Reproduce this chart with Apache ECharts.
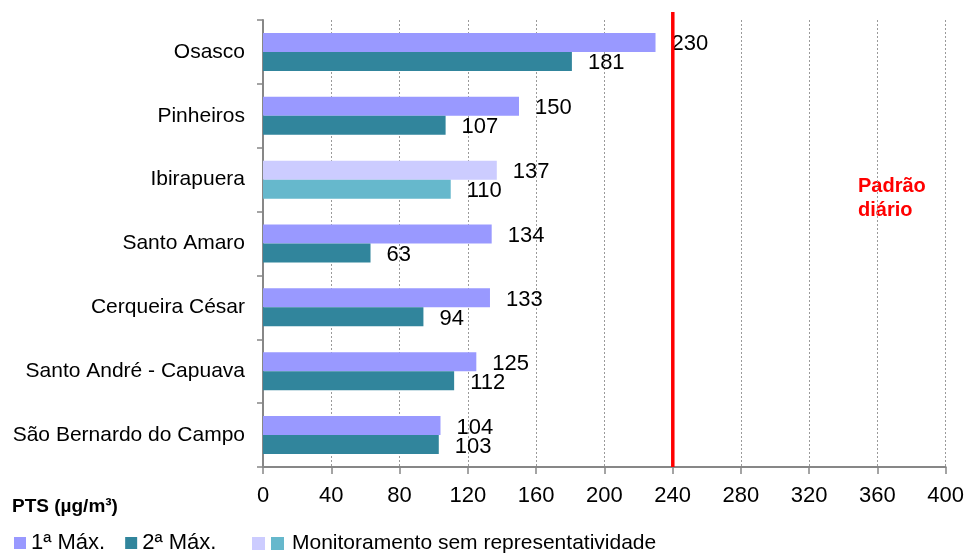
<!DOCTYPE html>
<html>
<head>
<meta charset="utf-8">
<title>PTS – máximas diárias</title>
<script src="https://cdn.jsdelivr.net/npm/echarts@6/dist/echarts.min.js"></script>
<style>
  html, body { margin: 0; padding: 0; background: #fff; }
  #chart { width: 967px; height: 554px; }
</style>
</head>
<body>
<div id="chart"></div>
<script>
// Stations, top to bottom
const categories = [
  'Osasco',
  'Pinheiros',
  'Ibirapuera',
  'Santo Amaro',
  'Cerqueira César',
  'Santo André - Capuava',
  'São Bernardo do Campo'
];
// Highest and second highest daily concentration (µg/m³)
const max1 = [230, 150, 137, 134, 133, 125, 104];
const max2 = [181, 107, 110, 63, 94, 112, 103];
// Stations whose monitoring was not representative
const unrepresentative = ['Ibirapuera'];
// Daily air-quality standard
const dailyStandard = 240;
// Value axis range
const axisMin = 0;
const axisMax = 400;
const axisStep = 40;

const FONT = 'Liberation Sans, Arial, sans-serif';
const C1 = '#9999ff';
const C2 = '#31859c';
const C1_LIGHT = '#ccccff';
const C2_LIGHT = '#66b8cc';
const AXIS_GREY = '#878787';

function barData(values, lightColor) {
  return values.map((v, i) => {
    const item = { value: v };
    if (unrepresentative.includes(categories[i])) {
      item.itemStyle = { color: lightColor };
    }
    return item;
  });
}

const valueLabel = {
  show: true,
  position: 'right',
  distance: 16,
  offset: [0, 2],
  color: '#000',
  fontFamily: FONT,
  fontSize: 22
};

const chart = echarts.init(document.getElementById('chart'), null, { renderer: 'canvas' });

chart.setOption({
  animation: false,
  backgroundColor: '#fff',
  textStyle: { fontFamily: FONT },
  grid: [
    { left: 263, right: 21, top: 20, bottom: 87 },
    // overlay grid for the standard line, which rises a little above the plot
    { left: 263, right: 21, top: 12, bottom: 87 }
  ],
  xAxis: [
    {
      gridIndex: 0,
      type: 'value',
      min: axisMin,
      max: axisMax,
      interval: axisStep,
      axisLine: { show: true, lineStyle: { color: AXIS_GREY, width: 2 } },
      axisTick: { show: true, length: 7, lineStyle: { color: AXIS_GREY, width: 1.5 } },
      axisLabel: { color: '#000', fontSize: 22, fontFamily: FONT, margin: 18 },
      splitLine: { show: true, lineStyle: { color: '#9a9a9a', width: 1, type: [2, 2] } }
    },
    { gridIndex: 1, type: 'value', min: axisMin, max: axisMax, show: false }
  ],
  yAxis: [
    {
      gridIndex: 0,
      type: 'category',
      data: categories,
      inverse: true,
      axisLine: { show: true, lineStyle: { color: AXIS_GREY, width: 2 } },
      axisTick: { show: true, length: 6, lineStyle: { color: AXIS_GREY, width: 1.5 } },
      axisLabel: { color: '#000', fontSize: 21, fontFamily: FONT, margin: 18 },
      splitLine: { show: false }
    },
    { gridIndex: 1, type: 'value', min: 0, max: 1, show: false }
  ],
  legend: [
    {
      left: 9, top: 527,
      itemWidth: 12, itemHeight: 12, itemGap: 20,
      selectedMode: false,
      icon: 'rect',
      textStyle: { color: '#000', fontSize: 22, fontFamily: FONT },
      data: ['1ª Máx.', '2ª Máx.']
    },
    {
      left: 247, top: 528,
      itemWidth: 13, itemHeight: 13,
      selectedMode: false,
      icon: 'rect',
      textStyle: { color: '#000', fontSize: 21, fontFamily: FONT },
      data: ['\u00a0']
    },
    {
      left: 266, top: 528,
      itemWidth: 13, itemHeight: 13,
      selectedMode: false,
      icon: 'rect',
      textStyle: { color: '#000', fontSize: 21, fontFamily: FONT, padding: [0, 0, 0, 3] },
      data: ['Monitoramento sem representatividade']
    }
  ],
  graphic: [
    {
      type: 'text',
      left: 12, top: 497,
      style: { text: 'PTS (µg/m³)', fill: '#000', font: 'bold 19px ' + FONT }
    },
    {
      type: 'text',
      left: 858, top: 174,
      style: {
        text: 'Padrão\ndiário',
        fill: '#ff0000',
        font: 'bold 20px ' + FONT,
        lineHeight: 24
      }
    }
  ],
  series: [
    {
      name: '1ª Máx.',
      type: 'bar',
      xAxisIndex: 0, yAxisIndex: 0,
      barWidth: 19,
      barGap: '0%',
      itemStyle: { color: C1 },
      label: valueLabel,
      data: barData(max1, C1_LIGHT)
    },
    {
      name: '2ª Máx.',
      type: 'bar',
      xAxisIndex: 0, yAxisIndex: 0,
      barWidth: 19,
      barGap: '0%',
      itemStyle: { color: C2 },
      label: valueLabel,
      data: barData(max2, C2_LIGHT)
    },
    {
      name: 'padrão diário',
      type: 'line',
      xAxisIndex: 1, yAxisIndex: 1,
      silent: true,
      symbol: 'none',
      z: 10,
      lineStyle: { color: '#ff0000', width: 3.5 },
      data: [[dailyStandard, 0], [dailyStandard, 1]]
    },
    // legend-only entries for the unrepresentative colours
    {
      name: '\u00a0',
      type: 'line',
      xAxisIndex: 1, yAxisIndex: 1,
      color: C1_LIGHT,
      itemStyle: { color: C1_LIGHT },
      data: []
    },
    {
      name: 'Monitoramento sem representatividade',
      type: 'line',
      xAxisIndex: 1, yAxisIndex: 1,
      color: C2_LIGHT,
      itemStyle: { color: C2_LIGHT },
      data: []
    }
  ]
});
</script>
</body>
</html>
